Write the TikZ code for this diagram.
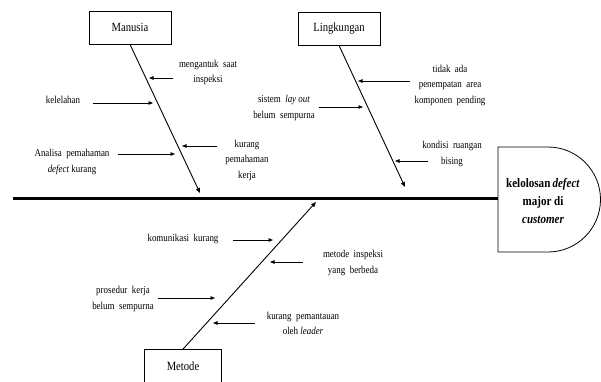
\documentclass[tikz,border=0pt]{standalone}
\usepackage{fontspec}
\setmainfont{Liberation Serif}[FakeStretch=0.85]
\usetikzlibrary{arrows.meta}
\usetikzlibrary{positioning}

\tikzset{
    category/.style = {draw, line width=0.8pt, minimum width=82pt, minimum height=33pt,
                       inner sep=0pt, font=\fontsize{12.5}{14}\selectfont},
    cause/.style    = {align=center, inner sep=0pt, font=\fontsize{10.5}{15.5}\selectfont},
    bone/.style     = {line width=0.9pt, arrows = -{Triangle[length=5pt,width=4pt]}},
    twig/.style     = {line width=0.8pt, arrows = -{Triangle[length=4.5pt,width=3.5pt]}}
}

\begin{document}
\begin{tikzpicture}[x=1pt,y=-1pt]

            % \draw [help lines,step=20] (0,0) grid (601,381);
            \useasboundingbox (0,0) rectangle (601,381);

            % spine and head
            \coordinate (tail) at (13,198);
            \coordinate (headwest) at (498,198);
            \draw[line width=3pt] (tail) -- (headwest);
            \draw[line width=0.8pt] (498,147) -- (548,147)
                  arc[start angle=90, end angle=-90, radius=52.5pt] -- (498,252) -- cycle;
            \path (543,201) node (head) [align=center, inner sep=0pt,
                  font=\fontsize{13}{18}\selectfont\bfseries]
                  {kelolosan\,\textit{defect}\\major di\\\textit{customer}};

            % categories
            \path   (130,27.5)  node (manusia)    [category] {Manusia}
                    (339,28.5)  node (lingkungan) [category] {Lingkungan}
                    (183,366)   node (metode)     [category, minimum width=77pt] {Metode};

            \coordinate (mtip) at (200,193);
            \coordinate (ltip) at (405,187);
            \coordinate (ttip) at (316,202);
            \draw[bone] (manusia.south) -- (mtip);
            \draw[bone] (lingkungan.south) -- (ltip);
            \draw[bone] (metode.north) -- (ttip);

            % causes
            \path   (208,72.5)  node (mA) [cause] {mengantuk\ \ saat\\inspeksi}
                    (63,100)    node (mB) [cause] {kelelahan}
                    (247,160)   node (mC) [cause] {kurang\\pemahaman\\kerja}
                    (72,162)    node (mD) [cause] {Analisa\ \ pemahaman\\\textit{defect} kurang}
                    (450,85)    node (lA) [cause] {tidak\ \ ada\\penempatan\ \ area\\komponen\ \ pending}
                    (284,108)   node (lB) [cause] {sistem\ \ \textit{lay out}\\belum\ \ sempurna}
                    (452,154)   node (lC) [cause] {kondisi\ \ ruangan\\bising}
                    (183,239)   node (tA) [cause] {komunikasi\ \ kurang}
                    (353,263)   node (tB) [cause] {metode\ \ inspeksi\\yang\ \ berbeda}
                    (123,299)   node (tC) [cause] {prosedur\ \ kerja\\belum\ \ sempurna}
                    (303,323.5) node (tD) [cause] {kurang\ \ pemantauan\\oleh \textit{leader}};

            \coordinate (mA1) at (173,78);  \coordinate (mA2) at (149,78);
            \coordinate (mB1) at (93,103);  \coordinate (mB2) at (153,103);
            \coordinate (mC1) at (217,146); \coordinate (mC2) at (182,146);
            \coordinate (mD1) at (118,154); \coordinate (mD2) at (175,154);
            \coordinate (lA1) at (410,81);  \coordinate (lA2) at (358,81);
            \coordinate (lB1) at (319,107); \coordinate (lB2) at (363,107);
            \coordinate (lC1) at (428,161); \coordinate (lC2) at (395,161);
            \coordinate (tA1) at (233,240); \coordinate (tA2) at (273,240);
            \coordinate (tB1) at (303,262); \coordinate (tB2) at (270,262);
            \coordinate (tC1) at (158,298); \coordinate (tC2) at (215,298);
            \coordinate (tD1) at (255,323); \coordinate (tD2) at (213,323);

            \foreach \c in {mA,mB,mC,mD,lA,lB,lC,tA,tB,tC,tD}
                \draw[twig] (\c1) -- (\c2);

\end{tikzpicture}
\end{document}
